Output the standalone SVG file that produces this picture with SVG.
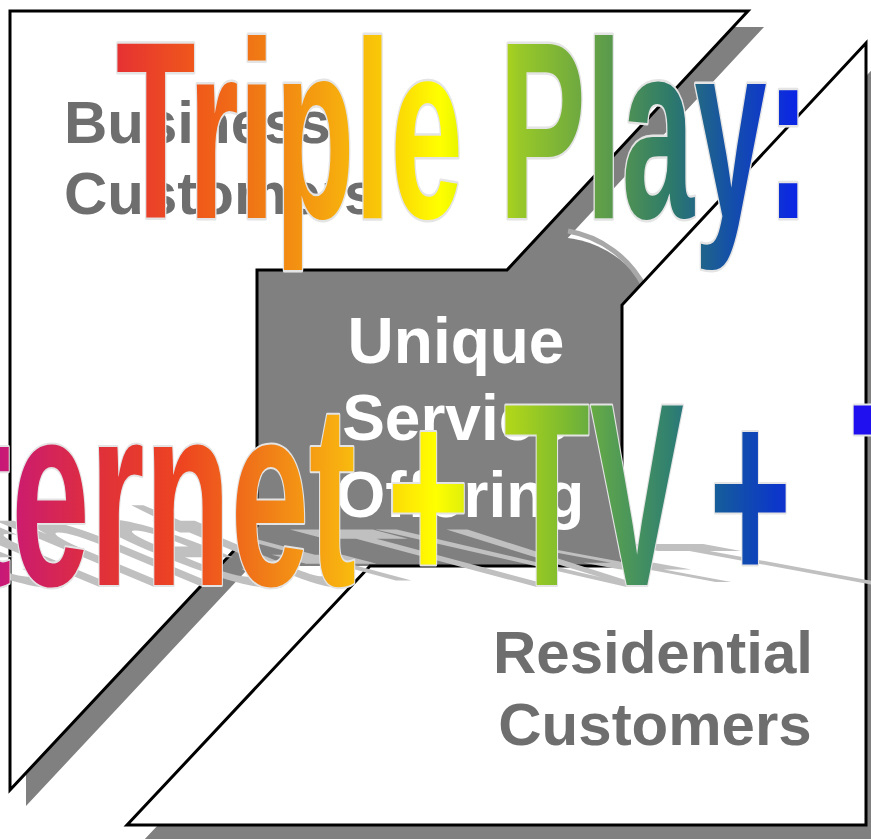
<svg xmlns="http://www.w3.org/2000/svg" width="871" height="839" viewBox="0 0 871 839">
  <style>
    .shadow { fill: #808080; }
    .region { fill: #ffffff; stroke: #000000; stroke-width: 3; stroke-linejoin: miter; }
    .label { font-family: "Liberation Sans", Arial, sans-serif; font-weight: bold; font-size: 60px; fill: #6e6e6e; }
    .center { font-family: "Liberation Sans", Arial, sans-serif; font-weight: bold; font-size: 64px; fill: #ffffff; text-anchor: middle; }
    .wa { font-family: "Liberation Sans", Arial, sans-serif; font-weight: bold; stroke: #e4e4e4; stroke-width: 4; stroke-linejoin: round; paint-order: stroke; vector-effect: non-scaling-stroke; }
    .wa-shadow { font-family: "Liberation Sans", Arial, sans-serif; font-weight: bold; font-size: 261px; fill: #c0c0c0; }
  </style>
  <defs>
    <linearGradient id="g1" gradientUnits="userSpaceOnUse" x1="4" y1="0" x2="1346" y2="0">
      <stop offset="0" stop-color="#e63232"/>
      <stop offset="0.119" stop-color="#f05a1a"/>
      <stop offset="0.206" stop-color="#f07a14"/>
      <stop offset="0.293" stop-color="#f5a010"/>
      <stop offset="0.380" stop-color="#f9c808"/>
      <stop offset="0.467" stop-color="#ffff00"/>
      <stop offset="0.510" stop-color="#dcef00"/>
      <stop offset="0.583" stop-color="#98c828"/>
      <stop offset="0.713" stop-color="#5a9a4c"/>
      <stop offset="0.800" stop-color="#2e7a6a"/>
      <stop offset="0.887" stop-color="#1450a8"/>
      <stop offset="1" stop-color="#0a1ef0"/>
    </linearGradient>
    <linearGradient id="g2" gradientUnits="userSpaceOnUse" x1="0" y1="0" x2="1613" y2="0">
      <stop offset="0" stop-color="#c81878"/>
      <stop offset="0.115" stop-color="#e0303a"/>
      <stop offset="0.21" stop-color="#ee4520"/>
      <stop offset="0.30" stop-color="#f07a18"/>
      <stop offset="0.39" stop-color="#f8b010"/>
      <stop offset="0.50" stop-color="#ffff00"/>
      <stop offset="0.58" stop-color="#b4d818"/>
      <stop offset="0.65" stop-color="#7cba30"/>
      <stop offset="0.70" stop-color="#58a050"/>
      <stop offset="0.77" stop-color="#308070"/>
      <stop offset="0.83" stop-color="#1458a0"/>
      <stop offset="0.89" stop-color="#0c38c8"/>
      <stop offset="0.98" stop-color="#2010f0"/>
      <stop offset="1" stop-color="#2010f0"/>
    </linearGradient>
  </defs>

  <rect x="0" y="0" width="871" height="839" fill="#ffffff"/>

  <g id="shadows">
    <polygon class="shadow" transform="translate(16,16)" points="10,11 748,11 507,270 257,270 257,526 10,790"/>
    <polygon class="shadow" transform="translate(16,16)" points="866,43 866,825 127,825 370,566 622,566 622,305"/>
  </g>

  <g id="unique-service-offering">
    <rect x="257" y="270" width="365" height="296" fill="#808080"/>
    <path d="M 530,240 A 107 107 0 0 1 648,292 L 648,330 L 530,330 Z" fill="#808080"/>
    <path d="M 568,231 A 107 107 0 0 1 645,288" fill="none" stroke="#a8a8a8" stroke-width="5"/>
  </g>

  <g id="business-customers">
    <polygon class="region" points="10,11 748,11 507,270 257,270 257,526 10,790"/>
    <text class="label" x="64" y="143">Business</text>
    <text class="label" x="64" y="214">Customers</text>
  </g>

  <g id="residential-customers">
    <polygon class="region" points="866,43 866,825 127,825 370,566 622,566 622,305"/>
    <text class="label" x="653" y="673" text-anchor="middle">Residential</text>
    <text class="label" x="655" y="745" text-anchor="middle">Customers</text>
  </g>

  <g id="center-label">
    <text class="center" x="456" y="363">Unique</text>
    <text class="center" x="456" y="440">Service</text>
    <text class="center" x="460" y="517">Offering</text>
  </g>

  <g id="wordart">
    <text class="wa" fill="url(#g1)" font-size="253" transform="translate(116,218) scale(0.514,1)" x="0" y="0">Triple Play:</text>
    <g id="wordart-shadow">
      <text class="wa-shadow" transform="matrix(0.54,0,1.15,0.48,0,587)" x="-298" y="0">Internet</text>
      <text class="wa-shadow" transform="matrix(0.54,0,1.2,0.32,0,587)" x="0" y="0"><tspan x="717">+</tspan> <tspan x="933">TV</tspan></text>
      <text class="wa-shadow" transform="matrix(0.54,0,1.3,0.24,0,587)" x="0" y="0"><tspan x="1313">+</tspan> <tspan x="1578">T</tspan></text>
    </g>
    <text class="wa" fill="url(#g2)" font-size="261" transform="translate(0,585) scale(0.54,1)" x="0" y="0"><tspan x="-298">Internet</tspan> <tspan x="717">+</tspan> <tspan x="933">TV</tspan> <tspan x="1313">+</tspan> <tspan x="1578">T</tspan></text>
  </g>
</svg>
